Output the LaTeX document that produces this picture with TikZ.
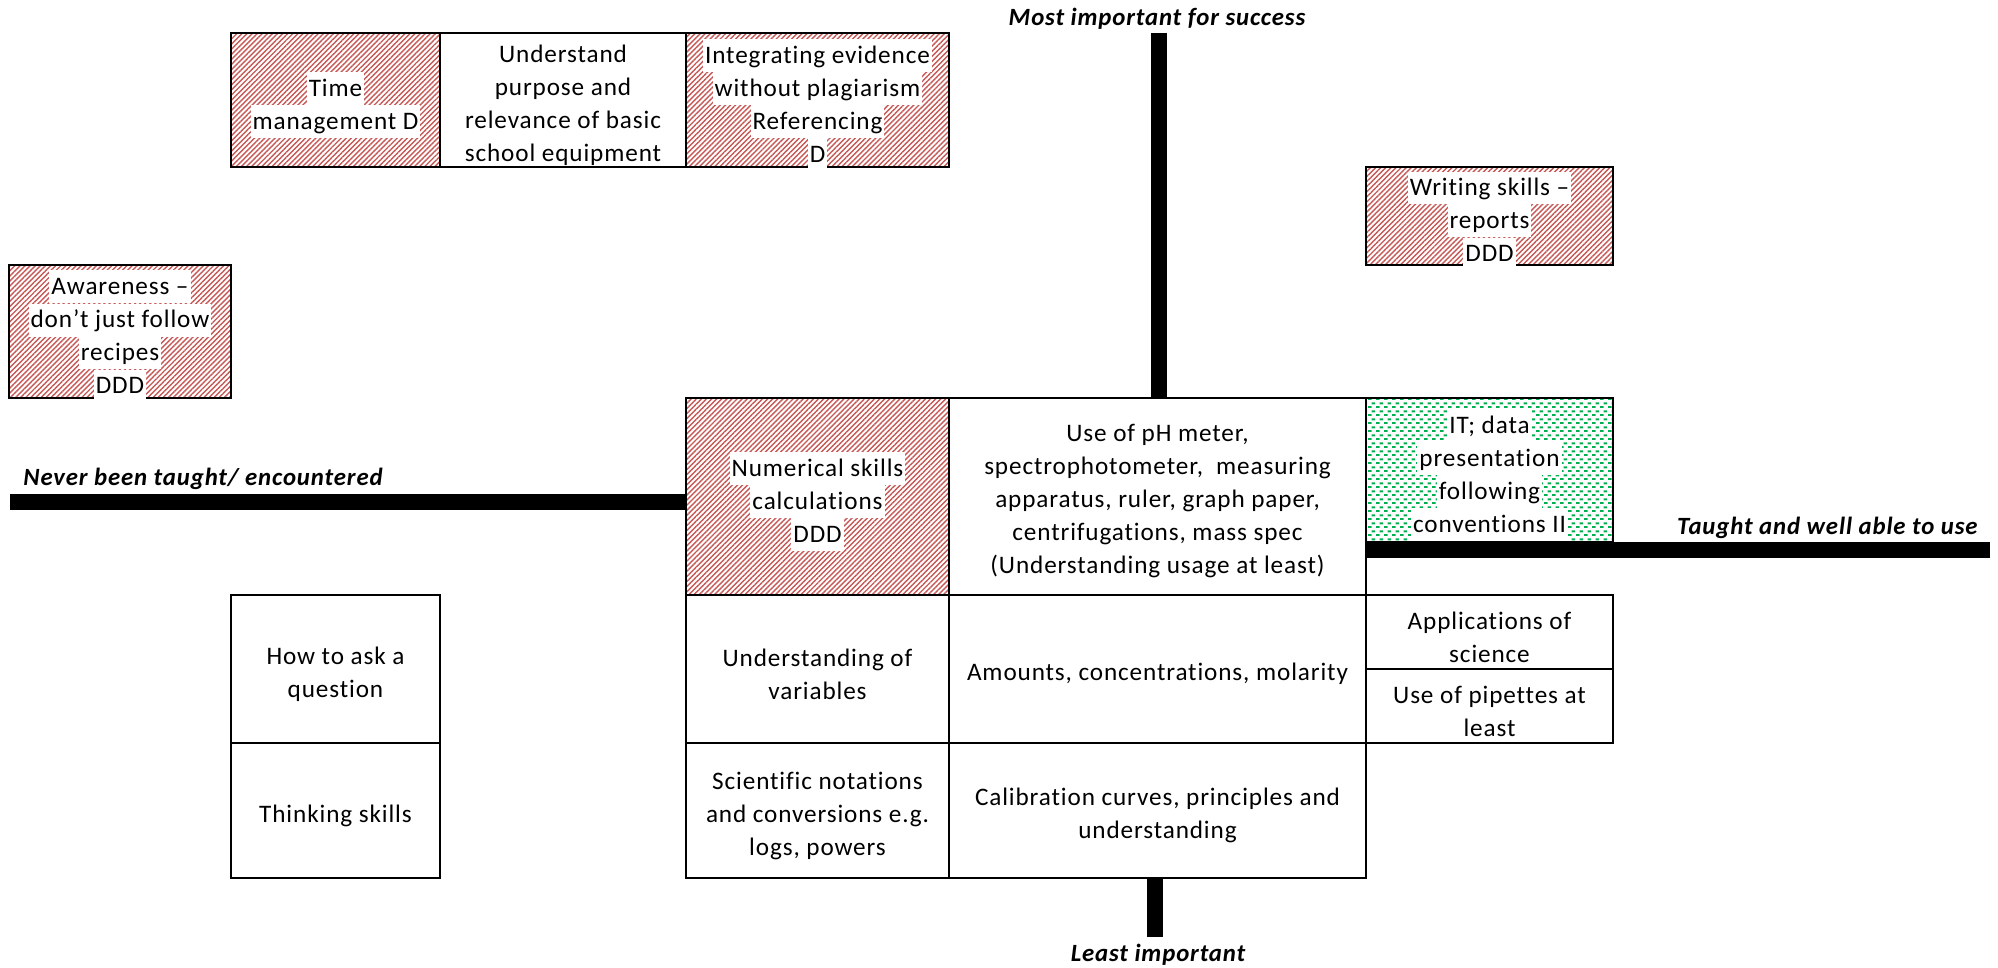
\documentclass[tikz,border=0pt]{standalone}
\usepackage{fontspec}
\setmainfont{Carlito}[LetterSpace=3.5, Ligatures=NoCommon]
\usetikzlibrary{patterns.meta}

\definecolor{hatchred}{RGB}{198,88,86}
\definecolor{dotgreen}{RGB}{0,176,80}

% staggered small green bricks
\pgfdeclarepattern{
  name=greenbricks, type=uncolored,
  bottom left={\pgfpoint{0pt}{0pt}}, top right={\pgfpoint{4pt}{4pt}},
  tile size={\pgfpoint{4pt}{4pt}},
  code={
    \pgfpathrectangle{\pgfpoint{0pt}{0pt}}{\pgfpoint{2pt}{1.1pt}}
    \pgfpathrectangle{\pgfpoint{2pt}{2pt}}{\pgfpoint{2pt}{1.1pt}}
    \pgfusepath{fill}
  }
}

\newcommand\bodysize{\fontsize{12.6pt}{16.5pt}\selectfont}
\newcommand\labelsize{\fontsize{12.4pt}{15pt}\selectfont}
% one line of text on a white strip
\newcommand\hl[1]{{\setlength{\fboxsep}{0pt}\colorbox{white}{\rule[-4.4pt]{0pt}{16.5pt}\hspace{1pt}#1\hspace{1pt}}}}
% \cellat{name}{style}{x1}{y1}{x2}{y2}{text}: framed box plus its centred text
\newcommand\cellat[7]{%
  \node[#2, minimum width={(#5-#3)*0.5pt}, minimum height={(#6-#4)*0.5pt}] (#1) at ({(#3+#5)/2},{(#4+#6)/2}) {};
  \node[celltext] (#1-text) at ([yshift=-2.5pt]#1.center) {#7};}

\tikzset{
  cell/.style={draw=black, line width=1.1pt, inner sep=0pt, outer sep=0pt, fill=white},
  celltext/.style={inner sep=0pt, align=center, font=\bodysize},
  redhatch/.style={cell, pattern={Lines[angle=45,distance=1.8pt,line width=0.7pt]}, pattern color=hatchred},
  greendots/.style={cell, pattern=greenbricks, pattern color=dotgreen},
  axisbar/.style={line width=8pt},
  axislabel/.style={font=\bfseries\itshape\labelsize, inner sep=0pt},
}

\begin{document}
\begin{tikzpicture}[x=0.5pt, y=-0.5pt]
\useasboundingbox (0,0) rectangle (1998,968);
\fill[white] (0,0) rectangle (1998,968);

% top row
\cellat{timem}{redhatch}{231}{33}{440}{167}{\hl{Time}\\\hl{management D}}
\cellat{purpose}{cell}{440}{33}{686}{167}{Understand\\purpose and\\relevance of basic\\school equipment}
\cellat{integ}{redhatch}{686}{33}{949}{167}{\hl{Integrating evidence}\\\hl{without plagiarism}\\\hl{Referencing}\\\hl{D}}

% free boxes
\cellat{aware}{redhatch}{9}{265}{231}{398}{\hl{Awareness –}\\\hl{don’t just follow}\\\hl{recipes}\\\hl{DDD}}
\cellat{writing}{redhatch}{1366}{167}{1613}{265}{\hl{Writing skills –}\\\hl{reports}\\\hl{DDD}}

% central grid
\cellat{numer}{redhatch}{686}{398}{949}{595}{\hl{Numerical skills}\\\hl{calculations}\\\hl{DDD}}
\cellat{phmeter}{cell}{949}{398}{1366}{595}{Use of pH meter,\\spectrophotometer,\ \ measuring\\apparatus, ruler, graph paper,\\centrifugations, mass spec\\(Understanding usage at least)}
\cellat{itdata}{greendots}{1366}{398}{1613}{542}{\hl{IT; data}\\\hl{presentation}\\\hl{following}\\\hl{conventions II}}
\cellat{vars}{cell}{686}{595}{949}{743}{Understanding of\\variables}
\cellat{amounts}{cell}{949}{595}{1366}{743}{Amounts, concentrations, molarity}
\cellat{apps}{cell}{1366}{595}{1613}{669}{Applications of\\science}
\cellat{pipettes}{cell}{1366}{669}{1613}{743}{Use of pipettes at\\least}
\cellat{scinot}{cell}{686}{743}{949}{878}{Scientific notations\\and conversions e.g.\\logs, powers}
\cellat{calib}{cell}{949}{743}{1366}{878}{Calibration curves, principles and\\understanding}

% left column
\cellat{askq}{cell}{231}{595}{440}{743}{How to ask a\\question}
\cellat{think}{cell}{231}{743}{440}{878}{Thinking skills}

% axes
\coordinate (topend) at (1159,33);
\coordinate (botend) at (1155,937);
\coordinate (leftend) at (10,502);
\coordinate (rightend) at (1990,549.5);
\draw[axisbar] (topend) -- (topend |- phmeter.north);
\draw[axisbar] (botend) -- (botend |- calib.south);
\draw[axisbar] (leftend) -- (leftend -| numer.west);
\draw[axisbar] (rightend) -- (rightend -| itdata.west);

% axis labels
\node[axislabel] (most) at (1157,19) {Most important for success};
\node[axislabel] (least) at (1158,955) {Least important};
\node[axislabel, anchor=west] (never) at (23,479) {Never been taught/ encountered};
\node[axislabel, anchor=east] (taught) at (1978,528) {Taught and well able to use};
\end{tikzpicture}
\end{document}
